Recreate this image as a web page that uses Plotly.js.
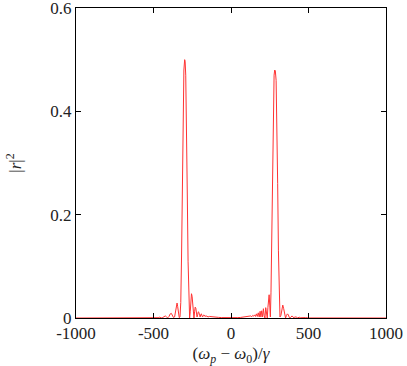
<!DOCTYPE html>
<html>
<head>
<meta charset="utf-8">
<script src="https://cdn.plot.ly/plotly-3.0.1.min.js"></script>
<style>html,body{margin:0;padding:0;background:#fff;}#chart{width:407px;height:366px;}</style>
</head>
<body>
<div id="chart"></div>
<script>
var detuning = [-1000, -600, -500, -490, -480, -470, -460, -450, -440, -432, -424, -416, -408, -400, -392, -385, -378, -371, -364, -358, -352, -348, -344, -339, -334, -329,
  -324, -319, -314, -309, -304, -299, -296, -292, -287, -282, -277, -272, -267, -263, -259, -255, -251, -247, -243, -239, -235, -231, -227, -223, -219,
  -215, -211, -207, -203, -199, -195, -191, -187, -183, -179, -174, -168, -162, -155, -148, -140, -130, -120, -110, -100, -80, -60, -40, -20, 0,
  20, 40, 60, 80, 100, 110, 120, 128, 134, 140, 146, 152, 158, 164, 170, 176, 182, 188, 193, 198, 204, 209, 214, 219, 224, 229, 234, 238, 242, 246, 250,
  254, 258, 263, 268, 273, 278, 282, 286, 291, 296, 301, 306, 311, 316, 322, 328, 334, 340, 346, 352, 358, 364, 370, 376, 382, 388, 394, 400, 406, 412,
  420, 430, 440, 450, 460, 470, 480, 500, 600, 1000];
var reflectance = [0, 0, 0.0002, 0.0008, 0.0001, 0.0006, 0.0015, 0.0002, 0.001, 0.003, 0.004, 0.002, 0.0003, 0.003, 0.008, 0.009, 0.005, 0.0008, 0.002, 0.012, 0.026, 0.029, 0.022, 0.008, 0.0008, 0.002,
  0.03, 0.12, 0.28, 0.42, 0.48, 0.5, 0.497, 0.47, 0.38, 0.24, 0.11, 0.03, 0.0, 0.012, 0.035, 0.047, 0.042, 0.025, 0.006, 0.0, 0.012, 0.021, 0.019, 0.009, 0.002,
  0.007, 0.012, 0.011, 0.005, 0.002, 0.007, 0.008, 0.004, 0.002, 0.005, 0.006, 0.003, 0.004, 0.0035, 0.002, 0.003, 0.0025, 0.002, 0.0018, 0.0015, 0.0012, 0.0008, 0.0005, 0.0003, 0.0003, 0.0005,
  0.0007, 0.001, 0.0015, 0.002, 0.0025, 0.003, 0.004, 0.0025, 0.005, 0.0035, 0.006, 0.003, 0.008, 0.003, 0.01, 0.002, 0.013, 0.002, 0.014, 0.002, 0.018, 0.005, 0.0, 0.02, 0.008, 0.0, 0.02, 0.044, 0.045, 0.025, 0.002,
  0.05, 0.18, 0.33, 0.43, 0.47, 0.48, 0.478, 0.46, 0.38, 0.26, 0.13, 0.04, 0.002, 0.005, 0.02, 0.025, 0.018, 0.005, 0.0, 0.005, 0.008, 0.006, 0.001, 0.0005, 0.003, 0.004, 0.002, 0.0003, 0.002, 0.002,
  0.0003, 0.0015, 0.0005, 0.001, 0.0002, 0.0008, 0.0001, 0, 0, 0];
var xTicks = [-1000, -500, 0, 500, 1000];
var xTickLabels = ['-1000', '-500', '0', '500', '1000'];
var yTicks = [0, 0.2, 0.4, 0.6];
var yTickLabels = ['0', '0.2', '0.4', '0.6'];

var font = {family: '"Liberation Serif", "DejaVu Serif", serif', size: 17, color: '#222'};
Plotly.newPlot('chart', [{
  x: detuning, y: reflectance, type: 'scatter', mode: 'lines',
  line: {color: 'rgb(255,50,50)', width: 1}, hoverinfo: 'none'
}], {
  width: 407, height: 366,
  margin: {l: 76, r: 21, t: 8, b: 48},
  paper_bgcolor: '#fff', plot_bgcolor: '#fff',
  showlegend: false,
  font: font,
  xaxis: {
    range: [-1000, 1000], tickvals: xTicks, ticktext: xTickLabels,
    ticks: 'inside', ticklen: 5, tickcolor: '#000', tickwidth: 1,
    showline: true, linecolor: '#000', linewidth: 1, mirror: 'ticks',
    showgrid: false, zeroline: false, tickfont: font, ticklabeloverflow: 'allow',
    title: {text: '(<i>ω<sub>p</sub></i> − <i>ω</i><sub>0</sub>)/<i>γ</i>', font: font, standoff: 6}
  },
  yaxis: {
    range: [0, 0.6], tickvals: yTicks, ticktext: yTickLabels,
    ticks: 'inside', ticklen: 5, tickcolor: '#000', tickwidth: 1,
    showline: true, linecolor: '#000', linewidth: 1, mirror: 'ticks',
    showgrid: false, zeroline: false, tickfont: font, ticklabeloverflow: 'allow',
    title: {text: '|<i>r</i>|<sup>2</sup>', font: font, standoff: 24}
  }
}, {staticPlot: true});
</script>
</body>
</html>
